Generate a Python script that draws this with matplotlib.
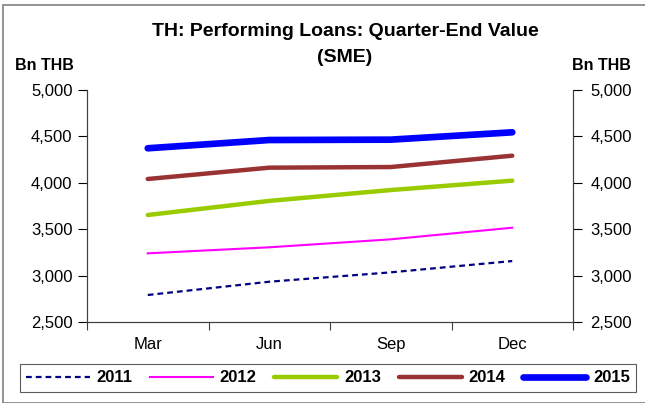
import matplotlib.pyplot as plt
from matplotlib.patches import Rectangle
from matplotlib.ticker import FuncFormatter

plt.rcParams['font.family'] = ['Liberation Sans', 'DejaVu Sans']

quarters = ["Mar", "Jun", "Sep", "Dec"]
loans_2011 = [2791, 2934, 3035, 3157]
loans_2012 = [3240, 3305, 3391, 3516]
loans_2013 = [3653, 3805, 3922, 4023]
loans_2014 = [4041, 4163, 4170, 4292]
loans_2015 = [4372, 4461, 4465, 4544]

fig = plt.figure(figsize=(6.45, 4.03), dpi=100)
ax = fig.add_axes([87 / 645, 1 - 322 / 403, 486 / 645, 232 / 403])

x = range(len(quarters))
ax.plot(x, loans_2011, color="#000080", lw=1.6, ls=(0, (2.6, 1.8)), label="2011")
ax.plot(x, loans_2012, color="#FF00FF", lw=1.5, label="2012")
ax.plot(x, loans_2013, color="#99CC00", lw=3.2, solid_capstyle="round", label="2013")
ax.plot(x, loans_2014, color="#993333", lw=3.2, solid_capstyle="round", label="2014")
ax.plot(x, loans_2015, color="#0000FF", lw=4.8, solid_capstyle="round", label="2015")

ax.set_xlim(-0.5, 3.5)
ax.set_ylim(2500, 5000)
ax.set_yticks(range(2500, 5001, 500))
fmt = FuncFormatter(lambda v, p: f"{int(v):,}")
ax.yaxis.set_major_formatter(fmt)

# category labels sit between the boundary ticks
ax.set_xticks([-0.5, 0.5, 1.5, 2.5, 3.5])
ax.set_xticklabels([])
ax.set_xticks(list(x), minor=True)
ax.set_xticklabels(quarters, minor=True, fontsize=12)
ax.tick_params(axis="x", which="minor", length=0, pad=11)
ax.tick_params(axis="x", which="major", length=6, direction="out", color="#404040")
ax.tick_params(axis="y", length=6.5, direction="out", labelsize=12, pad=4)

ax.spines["top"].set_visible(False)
for s in ["left", "bottom", "right"]:
    ax.spines[s].set_color("#404040")

ax2 = ax.twinx()
ax2.set_ylim(2500, 5000)
ax2.set_yticks(range(2500, 5001, 500))
ax2.yaxis.set_major_formatter(fmt)
ax2.tick_params(axis="y", length=6.5, direction="out", labelsize=12, pad=6)
ax2.spines["top"].set_visible(False)
for s in ["left", "bottom", "right"]:
    ax2.spines[s].set_color("#404040")

fig.text(345 / 645, 1 - 32 / 403, "TH: Performing Loans: Quarter-End Value",
         ha="center", va="center", fontsize=14, fontweight="bold")
fig.text(345 / 645, 1 - 57 / 403, "(SME)",
         ha="center", va="center", fontsize=14, fontweight="bold")
fig.text(15 / 645, 1 - 65 / 403, "Bn THB", ha="left", va="center",
         fontsize=11.5, fontweight="bold")
fig.text(631 / 645, 1 - 66 / 403, "Bn THB", ha="right", va="center",
         fontsize=11.5, fontweight="bold")

leg = fig.legend(loc="center", bbox_to_anchor=(328 / 645, 1 - 378 / 403), ncol=5,
                 prop={"weight": "bold", "size": 12}, handlelength=3.8,
                 handletextpad=0.4, columnspacing=1.05, fancybox=False,
                 edgecolor="#333333", borderpad=0.4)
leg.get_frame().set_linewidth(0.8)

fig.patches.append(Rectangle((3 / 645, 0), 1, 1 - 5 / 403, transform=fig.transFigure,
                             fill=False, edgecolor="#808080", lw=1.2))

fig.savefig("out.png", dpi=100)
